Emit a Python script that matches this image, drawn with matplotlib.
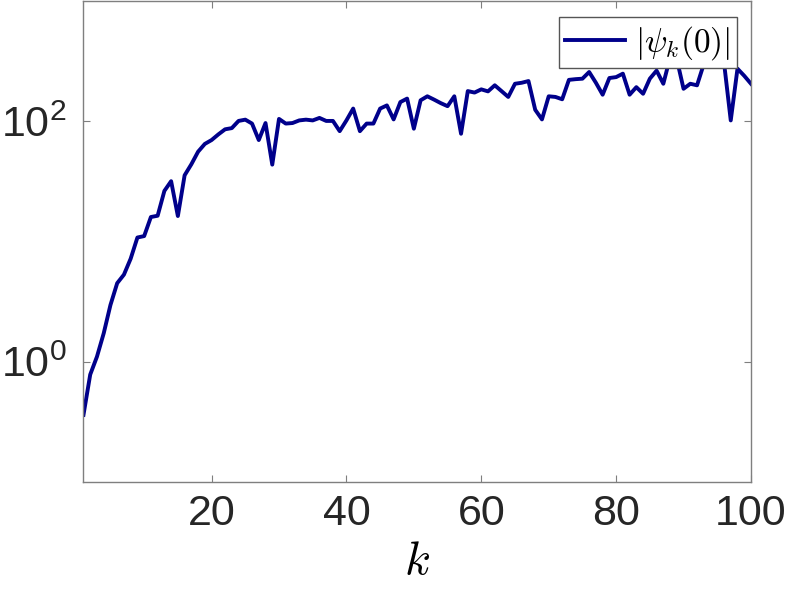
import matplotlib
matplotlib.use("Agg")
import matplotlib.pyplot as plt
from matplotlib.ticker import NullLocator

# |psi_k(0)|, k = 1..100
k = list(range(1, 101))
psi0 = [
    0.36, 0.78, 1.1, 1.72, 2.96, 4.5, 5.3, 7.2, 10.8, 11.1,
    16.0, 16.4, 26.4, 31.8, 16.3, 35.6, 44.0, 56.0, 65.0, 70.0,
    78.0, 86.0, 88.0, 101.0, 103.5, 96.0, 70.0, 97.0, 43.7, 105.0,
    96.0, 97.0, 102.0, 103.5, 102.0, 107.0, 101.0, 101.0, 83.0, 102.0,
    128.0, 83.0, 96.0, 96.0, 128.0, 136.0, 104.0, 145.0, 155.0, 87.0,
    150.0, 162.0, 152.0, 142.0, 134.0, 162.0, 79.0, 179.0, 174.0, 185.0,
    178.0, 200.0, 179.0, 160.0, 206.0, 210.0, 217.0, 125.0, 104.0, 162.0,
    160.0, 153.0, 222.0, 225.0, 227.0, 258.0, 210.0, 167.0, 230.0, 234.0,
    250.0, 167.0, 193.0, 170.0, 227.0, 265.0, 206.0, 340.0, 330.0, 187.0,
    206.0, 200.0, 300.0, 320.0, 290.0, 310.0, 102.0, 275.0, 240.0, 206.0,
]

xticks = [20, 40, 60, 80, 100]
yticks = [1, 100]
ytick_labels = [r"$\mathregular{10^{0}}$", r"$\mathregular{10^{2}}$"]

plt.rcParams["font.family"] = ["Liberation Sans", "DejaVu Sans"]
plt.rcParams["mathtext.fontset"] = "custom"
plt.rcParams["mathtext.rm"] = "Liberation Sans"
plt.rcParams["mathtext.it"] = "Liberation Sans:italic"

fig = plt.figure(figsize=(7.89, 5.93), dpi=100)
ax = fig.add_axes([0.1058, 0.1877, 0.846, 0.810])

ax.plot(k, psi0, color="#00008b", lw=2.8, label=r"$|\psi_k(0)|$")
ax.set_yscale("log")
ax.set_xlim(1, 100)
ax.set_ylim(0.1, 1000)
ax.set_xticks(xticks)
ax.set_yticks(yticks)
ax.set_yticklabels(ytick_labels)
ax.yaxis.set_minor_locator(NullLocator())

grey = "#7f7f7f"
for s in ax.spines.values():
    s.set_color(grey)
    s.set_linewidth(1.0)
ax.tick_params(direction="in", length=5, width=0.8, color=grey,
               top=True, right=True, labelsize=31, labelcolor="#262626")
ax.tick_params(axis="x", pad=9)
ax.tick_params(axis="y", pad=12)

ax.set_xlabel(r"$k$", fontsize=34, math_fontfamily="cm", labelpad=4)

leg = ax.legend(loc="upper right", bbox_to_anchor=(0.979, 0.967), prop={"size": 24},
                frameon=True, fancybox=False, framealpha=1.0, handlelength=1.8,
                handletextpad=0.3, borderpad=0.2, borderaxespad=0)
leg.get_frame().set_edgecolor("#555555")
leg.get_frame().set_linewidth(1.0)
for t in leg.get_texts():
    t.set_math_fontfamily("cm")

fig.savefig("out.png", dpi=100)
